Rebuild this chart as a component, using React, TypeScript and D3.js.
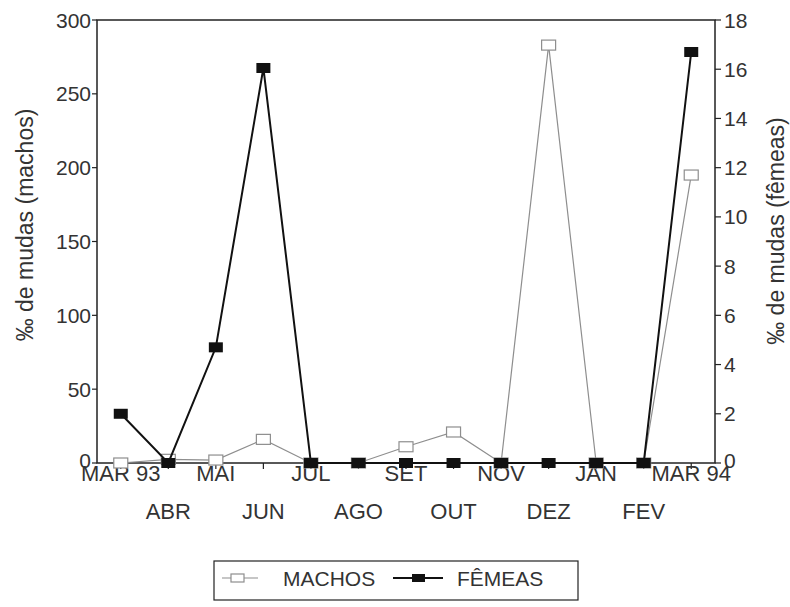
import { scalePoint, scaleLinear, line as d3line } from 'd3';

const MONTHS = ['MAR 93', 'ABR', 'MAI', 'JUN', 'JUL', 'AGO', 'SET', 'OUT', 'NOV', 'DEZ', 'JAN', 'FEV', 'MAR 94'];
const MACHOS = [0, 2.5, 2, 16, 0, 0, 11, 21, 0, 283, 0, 0, 195];
const FEMEAS = [2.0, 0, 4.7, 16.05, 0, 0, 0, 0, 0, 0, 0, 0, 16.7];
const LEFT_TICKS = [0, 50, 100, 150, 200, 250, 300];
const RIGHT_TICKS = [0, 2, 4, 6, 8, 10, 12, 14, 16, 18];

const W = 790;
const H = 607;
const L = 97;
const R = 715;
const T = 20;
const B = 463;
const FONT = '"Liberation Sans", Arial, sans-serif';
const GRAY = '#8e8e8e';

export default function App() {
  const x = scalePoint<string>().domain(MONTHS).range([L, R]).padding(0.5);
  const yL = scaleLinear().domain([0, 300]).range([B, T]);
  const yR = scaleLinear().domain([0, 18]).range([B, T]);

  const machosPts = MONTHS.map((m, i) => [x(m)!, yL(MACHOS[i])] as [number, number]);
  const femeasPts = MONTHS.map((m, i) => [x(m)!, yR(FEMEAS[i])] as [number, number]);
  const gen = d3line();

  return (
    <svg
      width={W}
      height={H}
      style={{ position: 'absolute', left: 0, top: 0, background: '#fff' }}
      fontFamily={FONT}
    >
      {/* frame */}
      <rect x={L} y={T} width={R - L} height={B - T} fill="none" stroke="#222" strokeWidth={1.5} />

      {/* left axis */}
      {LEFT_TICKS.map((t) => (
        <g key={'l' + t}>
          <line x1={L - 5} x2={L} y1={yL(t)} y2={yL(t)} stroke="#222" strokeWidth={1.2} />
          <text x={L - 6} y={yL(t) - (t === 0 ? 3 : 0)} dy="0.36em" textAnchor="end" fontSize={21} fill="#333">
            {t}
          </text>
        </g>
      ))}

      {/* right axis */}
      {RIGHT_TICKS.map((t) => (
        <g key={'r' + t}>
          <line x1={R} x2={R + 6} y1={yR(t)} y2={yR(t)} stroke="#222" strokeWidth={1.2} />
          <text x={R + 9} y={yR(t) - (t === 0 ? 3 : 0)} dy="0.36em" textAnchor="start" fontSize={21} fill="#333">
            {t}
          </text>
        </g>
      ))}

      {/* x axis ticks and labels, alternating rows */}
      {MONTHS.map((m, i) => (
        <g key={m}>
          <line x1={x(m)!} x2={x(m)!} y1={B} y2={B + 6} stroke="#222" strokeWidth={1.2} />
          <text x={x(m)!} y={i % 2 === 0 ? 481 : 519} textAnchor="middle" fontSize={22} fill="#333">
            {m}
          </text>
        </g>
      ))}

      {/* axis titles */}
      <text transform="translate(33,225) rotate(-90)" textAnchor="middle" fontSize={23} fill="#333">
        ‰ de mudas (machos)
      </text>
      <text transform="translate(784,231) rotate(-90)" textAnchor="middle" fontSize={23} fill="#333">
        ‰ de mudas (fêmeas)
      </text>

      {/* machos */}
      <path d={gen(machosPts) ?? ''} fill="none" stroke={GRAY} strokeWidth={1.2} />
      {machosPts.map(([px, py], i) => (
        <rect key={'m' + i} x={px - 7} y={py - 5} width={14} height={10} fill="#fff" stroke={GRAY} strokeWidth={1.2} />
      ))}

      {/* femeas */}
      <path d={gen(femeasPts) ?? ''} fill="none" stroke="#111" strokeWidth={2} />
      {femeasPts.map(([px, py], i) => (
        <rect key={'f' + i} x={px - 7} y={py - 5} width={14} height={10} fill="#111" />
      ))}

      {/* legend */}
      <rect x={214} y={561} width={364} height={39} fill="#fff" stroke="#222" strokeWidth={1.2} />
      <line x1={222} x2={258} y1={578} y2={578} stroke={GRAY} strokeWidth={1.2} />
      <rect x={231} y={574} width={13} height={8} fill="#fff" stroke={GRAY} strokeWidth={1.2} />
      <text x={283} y={578} dy="0.36em" fontSize={21} fill="#333">
        MACHOS
      </text>
      <line x1={393} x2={443} y1={578} y2={578} stroke="#111" strokeWidth={2} />
      <rect x={412} y={574} width={13} height={8} fill="#111" />
      <text x={457} y={578} dy="0.36em" fontSize={21} fill="#333">
        FÊMEAS
      </text>
    </svg>
  );
}
